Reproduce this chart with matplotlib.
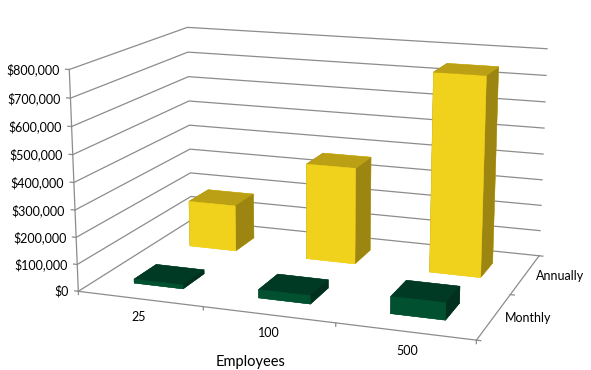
import matplotlib; matplotlib.use("Agg")
import matplotlib.pyplot as plt
import numpy as np

employees = ["25", "100", "500"]
series = ["Monthly", "Annually"]
monthly = [15000, 31000, 62000]
annually = [180000, 370000, 750000]
z_ticks = [0, 100000, 200000, 300000, 400000, 500000, 600000, 700000, 800000]

W, H = 591, 370
ZMAX = z_ticks[-1]
GRID = "#8c8c8c"
# faces in bar3d order: bottom, top, front, back, left, right
YELLOW = ["#f0d21c", "#bba015", "#f0d21c", "#f0d21c", "#9c8611", "#9c8611"]
GREEN = ["#01502f", "#013a24", "#01502f", "#01502f", "#01301e", "#01301e"]
plt.rcParams["font.family"] = ["Lato", "DejaVu Sans"]

# camera: fit a projection matrix from the plot box corners seen in the picture
box = [(0, 0, 0), (0, 0, 8), (0, 2, 8), (0, 2, 0), (3, 2, 8), (3, 2, 0), (3, 0, 0),
       (1, 0, 0), (2, 0, 0), (3, 1, 0)]
px = [(79, 291), (69, 69.3), (187.7, 27.3), (191, 220), (547, 49), (539.5, 255.7),
      (476.7, 340), (203, 307), (335.5, 323.5), (510, 294)]
rows = []
for (a, b, c), (u, v) in zip(box, px):
    rows.append([a, b, c, 1, 0, 0, 0, 0, -u*a, -u*b, -u*c, -u])
    rows.append([0, 0, 0, 0, a, b, c, 1, -v*a, -v*b, -v*c, -v])
P = np.linalg.svd(np.array(rows, float))[2][-1].reshape(3, 4)
P = P / P[2, 3]
P[:, 2] /= 100000.0

fig = plt.figure(figsize=(W/100, H/100), dpi=100, facecolor="white")
ax = fig.add_axes([0, 0, 1, 1], projection="3d")
ax.set_axis_off()
ax.apply_aspect = lambda *a, **k: None  # keep the full figure, no square box

def get_proj():
    flip = np.array([[1, 0, 0], [0, -1, H], [0, 0, 1.0]])
    top = ax.transData.inverted().get_matrix() @ flip @ P
    depth = P[2] - np.array([0, 0, 0, 3.0])  # z/w stays negative, mplot3d drops anything above 0
    return np.array([top[0], top[1], depth, P[2]])
ax.get_proj = get_proj

def label(x, y, z, s, **kw):
    # text goes on the figure so its extent is the real one
    u, v, w = P @ [x, y, z, 1]
    fig.text(u/w/W, 1 - v/w/H, s, va="center", fontsize=9.0, color="black", **kw)

# walls and floor
for z in z_ticks:
    ax.plot([0, 0, 3], [0, 2, 2], [z, z, z], color=GRID, lw=0.9)
    ax.plot([-0.03, 0], [0, 0], [z, z], color=GRID, lw=0.9)
    label(-0.08, 0, z - 5000, f"${z:,}", ha="right")
ax.plot([0, 0], [0, 0], [0, ZMAX], color=GRID, lw=0.9)
ax.plot([0, 3, 3], [0, 0, 2], [0, 0, 0], color=GRID, lw=0.9)
for i in range(4):
    ax.plot([i, i], [0, 0], [0, -12000], color=GRID, lw=0.9)
for j in range(3):
    ax.plot([3, 3.03], [j, j], [0, 0], color=GRID, lw=0.9)

# bars
xs, ys, dz, cols = [], [], [], []
for j, vals in enumerate([monthly, annually]):
    for i, v in enumerate(vals):
        xs.append(i + 0.30); ys.append(j + 0.31); dz.append(v)
        cols += GREEN if j == 0 else YELLOW
n = len(xs)
ax.bar3d(xs, ys, np.zeros(n), np.full(n, 0.40), np.full(n, 0.38), dz, color=cols, shade=False,
         edgecolor=cols, linewidth=0.3)

# labels
for i, lab in enumerate(employees):
    label(i + 0.55, -0.12, -44000, lab, ha="center")
for j, lab in enumerate(series):
    label(3.08, j + 0.5, 0, lab, ha="left")
fig.text(251/W, 1 - 362/H, "Employees", ha="center", va="center", fontsize=10.5)

fig.savefig("out.png", dpi=100)
